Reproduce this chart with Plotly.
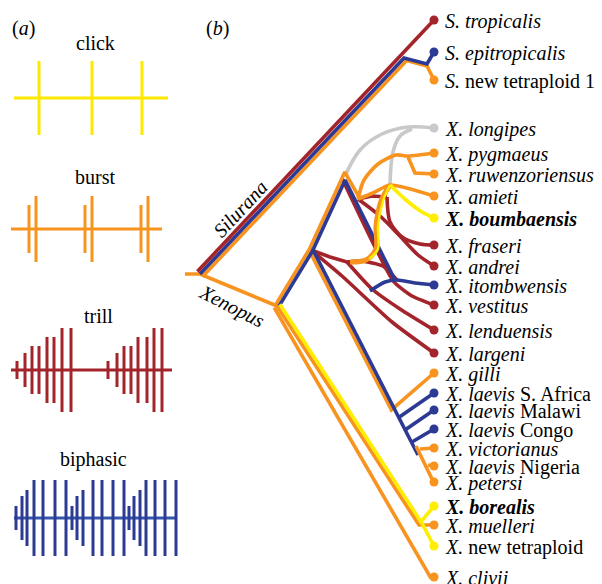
import numpy as np
import plotly.graph_objects as go

W, H = 602, 584
RED = "#a3242b"
BLUE = "#2c3a94"
ORANGE = "#f7931e"
YELLOW = "#ffee00"
GREY = "#c9c9c9"
FONT = "Liberation Serif"

# ---------------- panel (a): call types ----------------
call_labels = ["click", "burst", "trill", "biphasic"]

click_pulse_x = [39, 92, 142]
click_pulse_half = [37, 37, 37]

burst_pulse_x = [29, 36, 85, 92, 141, 148]
burst_pulse_half = [24, 33, 24, 33, 24, 33]

trill_pulse_x = [17, 25, 32, 39, 47, 54, 62, 71, 108, 117, 124, 131, 138, 147, 154, 162]
trill_pulse_half = [9, 17, 24, 24, 33, 33, 42, 42, 9, 17, 24, 24, 33, 33, 42, 42]

biphasic_pulse_x = [16, 22, 27, 34, 43, 55, 66, 72, 77, 83, 93, 102, 113, 124,
                    129, 134, 140, 146, 155, 165, 176]
biphasic_pulse_half = [12, 22, 28, 38, 38, 38, 38, 12, 22, 28, 38, 38, 38, 38,
                       12, 22, 28, 38, 38, 38, 38]

# layout of each waveform row: baseline y, baseline extent, colours, label position
waves = [
    dict(px=click_pulse_x, ph=click_pulse_half, y=98, x0=14, x1=168,
         color="#ffe800", base="#ffe800", ly=43, lx=95),
    dict(px=burst_pulse_x, ph=burst_pulse_half, y=229, x0=11, x1=162,
         color="#f7941d", base="#f7941d", ly=177, lx=95),
    dict(px=trill_pulse_x, ph=trill_pulse_half, y=370, x0=11, x1=172,
         color=RED, base=RED, ly=316, lx=98),
    dict(px=biphasic_pulse_x, ph=biphasic_pulse_half, y=518, x0=14, x1=176,
         color=BLUE, base="#3556ad", ly=459, lx=93),
]

# ---------------- panel (b): tips of the tree ----------------
tip_labels = [
    "<i>S. tropicalis</i>", "<i>S. epitropicalis</i>", "<i>S.</i> new tetraploid 1",
    "<i>X. longipes</i>", "<i>X. pygmaeus</i>", "<i>X. ruwenzoriensus</i>", "<i>X. amieti</i>",
    "<b><i>X. boumbaensis</i></b>", "<i>X. fraseri</i>", "<i>X. andrei</i>",
    "<i>X. itombwensis</i>", "<i>X. vestitus</i>", "<i>X. lenduensis</i>", "<i>X. largeni</i>",
    "<i>X. gilli</i>", "<i>X. laevis</i> S. Africa", "<i>X. laevis</i> Malawi",
    "<i>X. laevis</i> Congo", "<i>X. victorianus</i>", "<i>X. laevis</i> Nigeria",
    "<i>X. petersi</i>", "<b><i>X. borealis</i></b>", "<i>X. muelleri</i>",
    "<i>X.</i> new tetraploid", "<i>X. clivii</i>",
]
tip_keys = ["tro", "epi", "snt", "lon", "pyg", "ruw", "ami", "bou", "fra", "and",
            "ito", "ves", "len", "lar", "gil", "lsa", "lma", "lco", "vic", "lni",
            "pet", "bor", "mue", "xnt", "cli"]
tip_rows = [20, 52, 80, 128, 153, 174, 196, 218, 245, 266, 285, 305, 330, 353,
            373, 393, 410, 429, 448, 466, 482, 506, 525, 546, 577]
tip_calls = ["trill", "biphasic", "burst", "none", "burst", "burst", "burst", "click",
             "trill", "trill", "biphasic", "trill", "trill", "trill", "burst",
             "biphasic", "biphasic", "biphasic", "burst", "burst", "burst", "click",
             "burst", "click", "burst"]
call_colour = {"click": YELLOW, "burst": ORANGE, "trill": RED, "biphasic": BLUE, "none": GREY}

TIP_X = 434
T = {k: (TIP_X, y) for k, y in zip(tip_keys, tip_rows)}

# internal nodes of the network
N = dict(
    r0=(185, 274), r=(200, 274), sil=(404, 58), sil2=(427, 64),
    xen=(277, 306), d=(311, 250), p=(345, 176), s1=(358, 199),
    q=(390, 185), g=(393, 409), m=(419, 525), v=(397, 280),
)

fig = go.Figure()


def offset(pts, d):
    pts = np.array(pts, float)
    n = len(pts)
    nrm = []
    for i in range(n - 1):
        s = pts[i + 1] - pts[i]
        nrm.append(np.array([-s[1], s[0]]) / np.hypot(*s))
    out = []
    for i in range(n):
        if i == 0:
            v = nrm[0]
        elif i == n - 1:
            v = nrm[-1]
        else:
            v = nrm[i - 1] + nrm[i]
            v = v / np.linalg.norm(v)
            v = v / np.dot(v, nrm[i])
        out.append(tuple(pts[i] + d * v))
    return out


def path(pts, color, width=3.6, smooth=0.0):
    xs = [p[0] for p in pts]
    ys = [p[1] for p in pts]
    fig.add_trace(go.Scatter(
        x=xs, y=ys, mode="lines", hoverinfo="skip", showlegend=False,
        line=dict(color=color, width=width,
                  shape="spline" if smooth else "linear",
                  smoothing=smooth if smooth else None)))


# waveforms: baseline then pulses
for w in waves:
    fig.add_trace(go.Scatter(x=[w["x0"], w["x1"]], y=[w["y"], w["y"]], mode="lines",
                             hoverinfo="skip", showlegend=False,
                             line=dict(color=w["base"], width=3)))
    xs, ys = [], []
    for x, h in zip(w["px"], w["ph"]):
        xs += [x, x, None]
        ys += [w["y"] - h, w["y"] + h, None]
    fig.add_trace(go.Scatter(x=xs, y=ys, mode="lines", hoverinfo="skip",
                             showlegend=False, line=dict(color=w["color"], width=3)))

# --- Silurana ---
path([N["r0"], N["r"], N["xen"]], ORANGE)
path(offset([N["r"], N["sil"]], 3.6)[:2] + [(N["sil2"][0], N["sil2"][1] + 2), T["snt"]], ORANGE)
path([N["r"], N["sil"], N["sil2"], T["epi"]], BLUE)
path(offset([N["r"], N["sil"]], -3.6) + [T["tro"]], RED)

# --- grey lineage ---
path([N["p"], (360, 150), (382, 134), (408, 127), T["lon"]], GREY, smooth=1.0)
path([N["q"], (393, 152), (400, 136), (412, 129)], GREY, smooth=1.0)

# --- red reticulations ---
path([N["d"], (330, 257), (347, 262), (368, 260)], RED)
path([(347, 262), (372, 289), (400, 309), T["len"]], RED, smooth=0.6)
path([N["d"], (342, 276), (392, 322), T["lar"]], RED, smooth=0.6)
path([N["s1"], (372, 196), (387, 197)], RED)
path([(387, 197), (390, 222), (402, 237), (420, 244), T["fra"]], RED, smooth=0.8)
path([N["s1"], (380, 216), (398, 234), (418, 255), T["and"]], RED, smooth=0.8)
path([(362, 261), (383, 266), N["v"]], RED, smooth=0.5)
path(offset([N["p"], N["v"]], 3.6) + [(412, 296), T["ves"]], RED, smooth=0.5)

# --- ladder leading to the laevis group ---
path(offset([N["d"], N["g"]], 1.8) + [T["gil"]], ORANGE)
path(offset([N["d"], N["g"]], -1.8)[:1] + [(418, 455)], BLUE)
path([(398, 418), T["lsa"]], BLUE)
path([(405, 430), T["lma"]], BLUE)
path([(412, 442), T["lco"]], BLUE)
path([(416, 446), (433, 481)], ORANGE)
path([(420, 449), T["vic"]], ORANGE)
path([(428, 465), T["lni"]], ORANGE)

# --- Xenopus stem and main clade ---
path(offset([N["xen"], N["d"], N["p"], N["s1"]], -1.8), ORANGE)
path(offset([N["xen"], N["d"], N["p"], N["v"]], 1.8), BLUE)

# orange/yellow clade
path([N["s1"], (364, 180), (378, 164), (396, 155), (408, 156), T["pyg"]], ORANGE, smooth=0.8)
path([(408, 157), (415, 173), T["ruw"]], ORANGE)
path([N["s1"], (373, 193), N["q"], T["ami"]], ORANGE, smooth=0.6)
path([N["q"], (381, 201), (376, 226), (376, 249), (366, 260), (350, 262)], ORANGE, width=5, smooth=0.9)
path([N["q"], (383, 201), (378, 226), (378, 249), (369, 259)], YELLOW, width=2.4, smooth=0.9)
path([N["q"], (406, 200), (422, 212), T["bou"]], YELLOW, smooth=0.8)

# itombwensis
path([(370, 291), (385, 282), N["v"], (415, 283), T["ito"]], BLUE, smooth=0.7)

# --- lower Xenopus lineages ---
path(offset([N["xen"], T["cli"]], 3.2), ORANGE)
path([N["xen"], N["m"], T["mue"]], ORANGE)
path(offset([N["xen"], N["m"]], -3.4) + [T["xnt"]], YELLOW)
path([(N["m"][0] + 1, N["m"][1] - 2), T["bor"]], YELLOW)

# tip dots and labels
fig.add_trace(go.Scatter(
    x=[T[k][0] for k in tip_keys], y=[T[k][1] for k in tip_keys], mode="markers",
    hoverinfo="skip", showlegend=False,
    marker=dict(size=9, color=[call_colour[c] for c in tip_calls], line=dict(width=0))))

ann = []
for lab, y in zip(tip_labels, tip_rows):
    ann.append(dict(x=443, y=y + 1, text=lab, xanchor="left", yanchor="middle"))
for w, lab in zip(waves, call_labels):
    ann.append(dict(x=w["lx"], y=w["ly"], text=lab, xanchor="center", yanchor="middle"))
ann.append(dict(x=10, y=28, text="(<i>a</i>)", xanchor="left", yanchor="middle"))
ann.append(dict(x=204, y=28, text="(<i>b</i>)", xanchor="left", yanchor="middle"))
ann.append(dict(x=240, y=209, text="<i>Silurana</i>", textangle=-47,
                xanchor="center", yanchor="middle"))
ann.append(dict(x=232, y=306, text="<i>Xenopus</i>", textangle=27,
                xanchor="center", yanchor="middle"))
for a in ann:
    a.update(xref="x", yref="y", showarrow=False,
             font=dict(family=FONT, size=20, color="black"))

fig.update_layout(
    width=W, height=H, margin=dict(l=0, r=0, t=0, b=0),
    paper_bgcolor="white", plot_bgcolor="white", annotations=ann,
    xaxis=dict(range=[0, W], visible=False, fixedrange=True),
    yaxis=dict(range=[H, 0], visible=False, fixedrange=True),
)
fig.write_html("out.html")
